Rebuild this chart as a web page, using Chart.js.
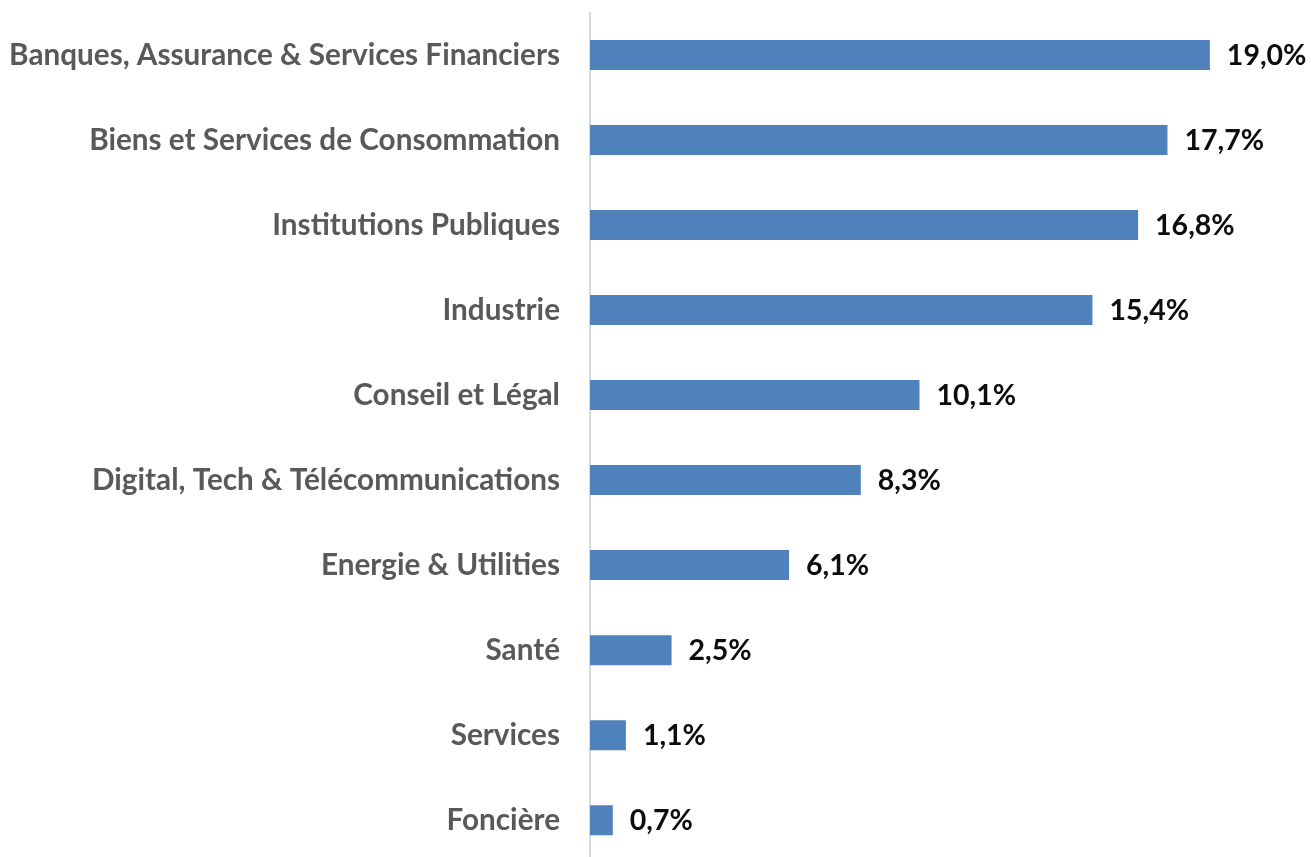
<!DOCTYPE html>
<html lang="fr">
<head>
    <meta charset="UTF-8">
    <title>Répartition par secteur</title>
    <style>
        html, body {
            margin: 0;
            padding: 0;
            background: white;
            overflow: hidden;
        }
        .wrap {
            position: relative;
            width: 1311px;
            height: 875px;
        }
    </style>
</head>
<body>
    <div class="wrap">
        <canvas id="chart"></canvas>
    </div>

    <script src="https://cdn.jsdelivr.net/npm/chart.js"></script>
    <script>
        const sectors = [
            "Banques, Assurance & Services Financiers",
            "Biens et Services de Consommation",
            "Institutions Publiques",
            "Industrie",
            "Conseil et Légal",
            "Digital, Tech & Télécommunications",
            "Energie & Utilities",
            "Santé",
            "Services",
            "Foncière"
        ];
        const shares = [19.0, 17.7, 16.8, 15.4, 10.1, 8.3, 6.1, 2.5, 1.1, 0.7];

        const fontName = "Lato, 'Open Sans', sans-serif";

        // writes "19,0%" next to each bar
        const valueLabels = {
            id: "valueLabels",
            afterDatasetsDraw(chart) {
                const ctx = chart.ctx;
                const meta = chart.getDatasetMeta(0);
                ctx.save();
                ctx.font = "bold 28.5px " + fontName;
                ctx.fillStyle = "#0d0d0d";
                ctx.textAlign = "left";
                ctx.textBaseline = "middle";
                meta.data.forEach((bar, i) => {
                    const txt = shares[i].toFixed(1).replace(".", ",") + "%";
                    ctx.fillText(txt, bar.x + 17, bar.y + 1);
                });
                ctx.restore();
            }
        };

        new Chart(document.getElementById("chart"), {
            type: "bar",
            data: {
                labels: sectors,
                datasets: [{
                    data: shares,
                    backgroundColor: "#4f81bd",
                    borderWidth: 0,
                    categoryPercentage: 1,
                    barPercentage: 0.353
                }]
            },
            options: {
                indexAxis: "y",
                responsive: true,
                maintainAspectRatio: false,
                animation: false,
                layout: {
                    padding: { top: 12.5, right: 0, bottom: 0, left: 0 }
                },
                plugins: {
                    legend: { display: false },
                    tooltip: { enabled: false }
                },
                scales: {
                    x: {
                        display: false,
                        min: 0,
                        max: 22.1
                    },
                    y: {
                        afterFit(scale) {
                            scale.width = 590;
                        },
                        // tick length used as the gap so labels don't pad the top/bottom
                        grid: { display: false, drawTicks: true, tickLength: 30 },
                        border: { color: "#d9d9d9", width: 2 },
                        ticks: {
                            padding: 0,
                            color: "#595959",
                            font: { family: fontName, size: 29.7, weight: "bold", lineHeight: 0.83 }
                        }
                    }
                }
            },
            plugins: [valueLabels]
        });
    </script>
</body>
</html>
